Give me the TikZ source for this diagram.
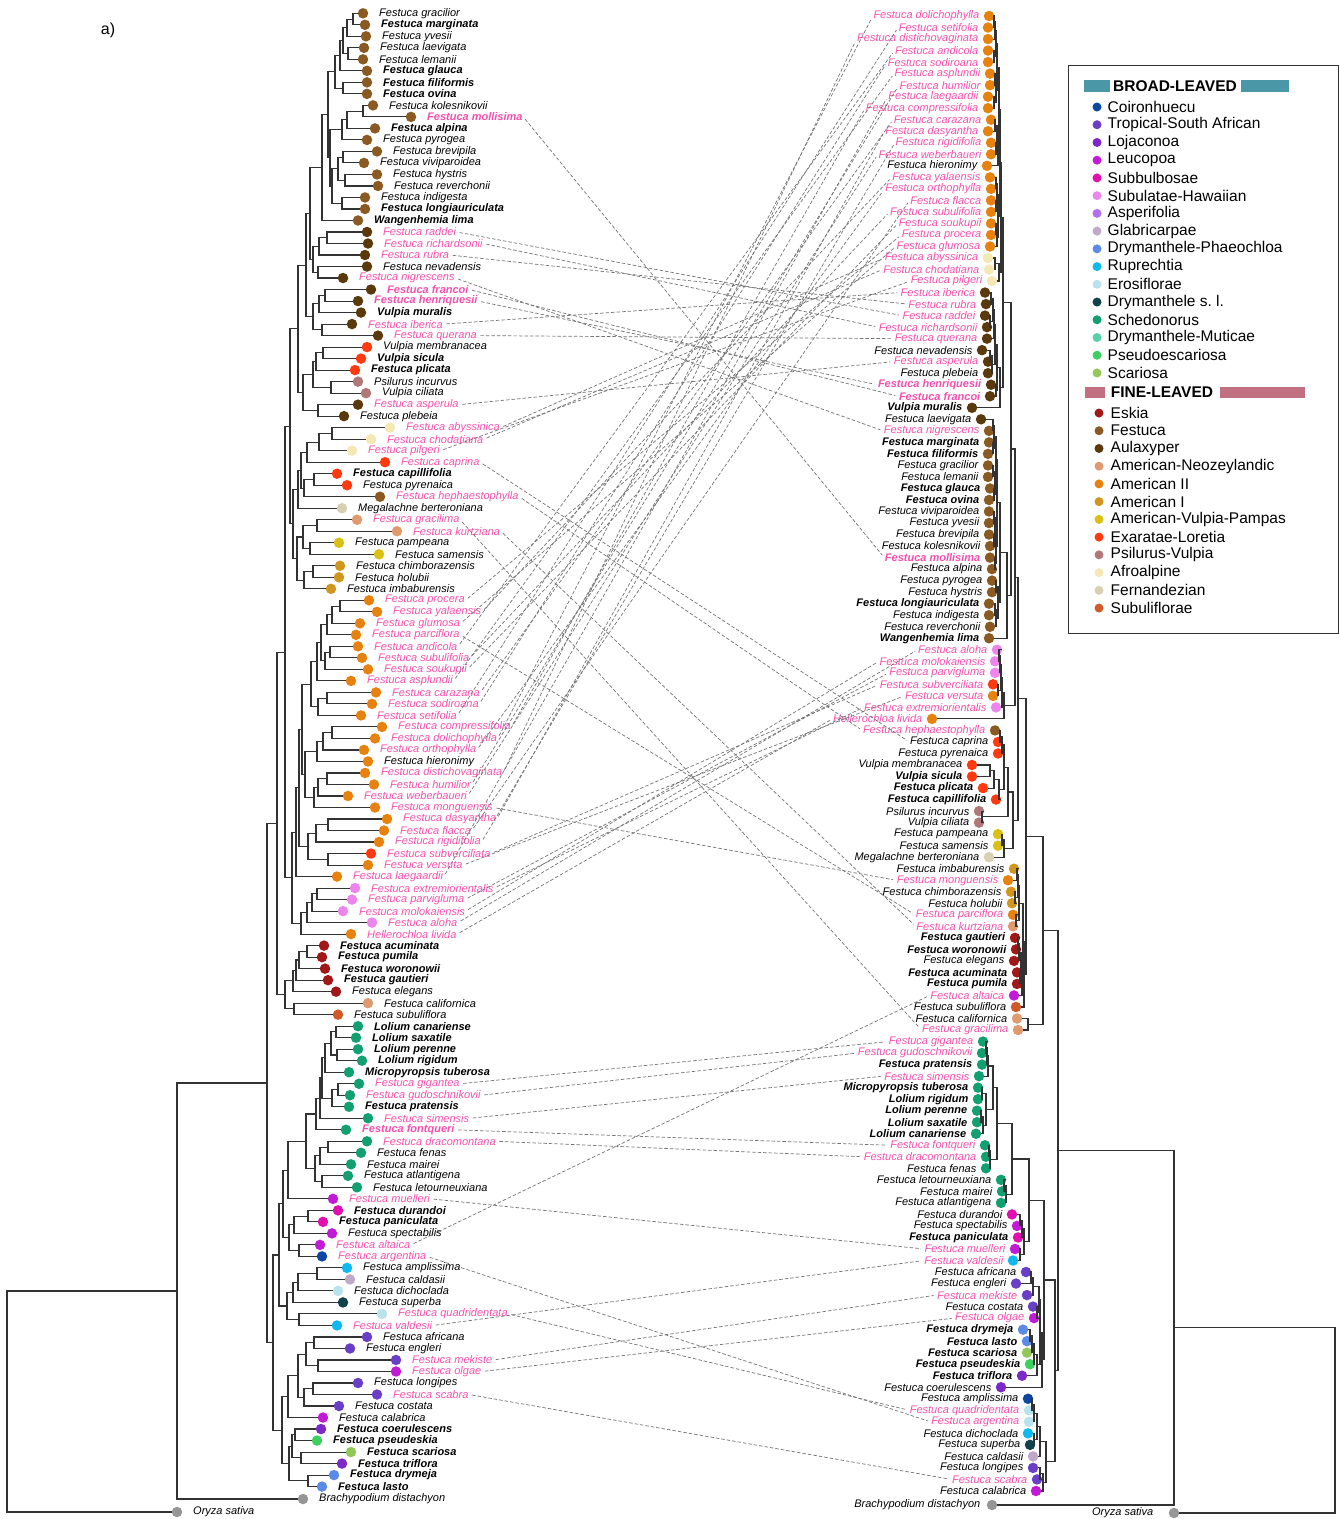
\documentclass[tikz,border=0pt]{standalone}
\usepackage{fontspec}
\setmainfont{Liberation Sans}
\usetikzlibrary{calc}
\definecolor{cCO}{RGB}{13,71,161}
\definecolor{cTS}{RGB}{106,63,200}
\definecolor{cLJ}{RGB}{125,40,200}
\definecolor{cLE}{RGB}{194,27,214}
\definecolor{cSB}{RGB}{224,16,176}
\definecolor{cSH}{RGB}{236,134,236}
\definecolor{cAS}{RGB}{176,112,240}
\definecolor{cGL}{RGB}{192,168,200}
\definecolor{cDP}{RGB}{91,139,230}
\definecolor{cRU}{RGB}{16,184,240}
\definecolor{cER}{RGB}{184,226,238}
\definecolor{cDS}{RGB}{16,66,78}
\definecolor{cSC}{RGB}{18,160,112}
\definecolor{cDM}{RGB}{85,208,168}
\definecolor{cPS}{RGB}{60,208,96}
\definecolor{cSA}{RGB}{146,200,90}
\definecolor{cES}{RGB}{160,24,24}
\definecolor{cFE}{RGB}{139,90,34}
\definecolor{cAU}{RGB}{90,58,12}
\definecolor{cAN}{RGB}{224,154,112}
\definecolor{cAII}{RGB}{232,130,15}
\definecolor{cAI}{RGB}{208,150,30}
\definecolor{cVP}{RGB}{216,192,20}
\definecolor{cEL}{RGB}{255,58,16}
\definecolor{cPV}{RGB}{176,120,120}
\definecolor{cAF}{RGB}{244,232,180}
\definecolor{cFZ}{RGB}{216,208,176}
\definecolor{cSU}{RGB}{208,90,42}
\definecolor{cOG}{RGB}{150,150,150}
\definecolor{pinkt}{RGB}{245,80,175}
\definecolor{barB}{RGB}{74,151,168}
\definecolor{barF}{RGB}{192,112,128}
\tikzset{
 tdot/.style={circle, inner sep=0pt, minimum size=10.5pt},
 legdot/.style={circle, inner sep=0pt, minimum size=9pt},
 treeln/.style={draw=black!80, line width=1.1pt},
 labn/.style={font=\fontsize{11}{12}\selectfont\itshape, inner sep=0.5pt},
 labb/.style={font=\fontsize{11}{12}\selectfont\bfseries\itshape, inner sep=0.5pt},
 labp/.style={labn, text=pinkt},
 labq/.style={labb, text=pinkt},
 tangle/.style={draw=black!55, dash pattern=on 3.5pt off 2pt, line width=0.7pt, shorten <=3pt, shorten >=3pt},
 legt/.style={font=\fontsize{15.5}{17}\selectfont, inner sep=0.5pt, anchor=west},
 legh/.style={font=\fontsize{15.5}{17}\selectfont\bfseries, inner sep=0.5pt},
}
\newcommand\LL[6]{\node[tdot,fill=c#3] (L#1) at (#2,{13.3+(#1-1)*11.51}) {};
  \node[#4,anchor=west] (lt-#6) at ([xshift=15.5pt]L#1.center) {#5};}
\newcommand\RL[6]{\node[tdot,fill=c#3] (R#1) at (#2,{16+(#1-1)*11.523}) {};
  \node[#4,anchor=east] (rt-#6) at ([xshift=-9pt]R#1.center) {#5};}
\newcommand\clade[4]{%
  \path (#3.center) -- (#4.center) coordinate[pos=.5] (#1m);
  \coordinate (#1x) at (#2,0);
  \coordinate (#1) at (#1x |- #1m);
  \draw[treeln] (#3) -| (#1.center) |- (#4);}
\begin{document}
\begin{tikzpicture}[x=1pt,y=-1pt]
\useasboundingbox (0,0) rectangle (1340,1519);
\node[font=\fontsize{16}{18}\selectfont, inner sep=0pt] (panel) at (108,30) {a)};
% ---------------- left tree leaves
\LL{1}{363}{FE}{labn}{Festuca gracilior}{gracilior}
\LL{2}{365}{FE}{labb}{Festuca marginata}{marginata}
\LL{3}{366}{FE}{labn}{Festuca yvesii}{yvesii}
\LL{4}{364}{FE}{labn}{Festuca laevigata}{laevigata}
\LL{5}{363}{FE}{labn}{Festuca lemanii}{lemanii}
\LL{6}{367}{FE}{labb}{Festuca glauca}{glauca}
\LL{7}{367}{FE}{labb}{Festuca filiformis}{filiformis}
\LL{8}{367}{FE}{labb}{Festuca ovina}{ovina}
\LL{9}{373}{FE}{labn}{Festuca kolesnikovii}{kolesnikovii}
\LL{10}{411}{FE}{labq}{Festuca mollisima}{mollisima}
\LL{11}{375}{FE}{labb}{Festuca alpina}{alpina}
\LL{12}{367}{FE}{labn}{Festuca pyrogea}{pyrogea}
\LL{13}{377}{FE}{labn}{Festuca brevipila}{brevipila}
\LL{14}{364}{FE}{labn}{Festuca viviparoidea}{viviparoidea}
\LL{15}{377}{FE}{labn}{Festuca hystris}{hystris}
\LL{16}{378}{FE}{labn}{Festuca reverchonii}{reverchonii}
\LL{17}{365}{FE}{labn}{Festuca indigesta}{indigesta}
\LL{18}{365}{FE}{labb}{Festuca longiauriculata}{longiauriculata}
\LL{19}{358}{FE}{labb}{Wangenhemia lima}{lima}
\LL{20}{367}{AU}{labp}{Festuca raddei}{raddei}
\LL{21}{368}{AU}{labp}{Festuca richardsonii}{richardsonii}
\LL{22}{365}{AU}{labp}{Festuca rubra}{rubra}
\LL{23}{367}{AU}{labn}{Festuca nevadensis}{nevadensis}
\LL{24}{343}{AU}{labp}{Festuca nigrescens}{nigrescens}
\LL{25}{371}{AU}{labq}{Festuca francoi}{francoi}
\LL{26}{358}{AU}{labq}{Festuca henriquesii}{henriquesii}
\LL{27}{361}{AU}{labb}{Vulpia muralis}{muralis}
\LL{28}{352}{AU}{labp}{Festuca iberica}{iberica}
\LL{29}{378}{AU}{labp}{Festuca querana}{querana}
\LL{30}{367}{EL}{labn}{Vulpia membranacea}{membranacea}
\LL{31}{361}{EL}{labb}{Vulpia sicula}{sicula}
\LL{32}{355}{EL}{labb}{Festuca plicata}{plicata}
\LL{33}{358}{PV}{labn}{Psilurus incurvus}{incurvus}
\LL{34}{366}{PV}{labn}{Vulpia ciliata}{ciliata}
\LL{35}{358}{AU}{labp}{Festuca asperula}{asperula}
\LL{36}{344}{AU}{labn}{Festuca plebeia}{plebeia}
\LL{37}{390}{AF}{labp}{Festuca abyssinica}{abyssinica}
\LL{38}{371}{AF}{labp}{Festuca chodatiana}{chodatiana}
\LL{39}{352}{AF}{labp}{Festuca pilgeri}{pilgeri}
\LL{40}{385}{EL}{labp}{Festuca caprina}{caprina}
\LL{41}{337}{EL}{labb}{Festuca capillifolia}{capillifolia}
\LL{42}{347}{EL}{labn}{Festuca pyrenaica}{pyrenaica}
\LL{43}{380}{FE}{labp}{Festuca hephaestophylla}{hephaestophylla}
\LL{44}{342}{FZ}{labn}{Megalachne berteroniana}{berteroniana}
\LL{45}{357}{AN}{labp}{Festuca gracilima}{gracilima}
\LL{46}{397}{AN}{labp}{Festuca kurtziana}{kurtziana}
\LL{47}{339}{VP}{labn}{Festuca pampeana}{pampeana}
\LL{48}{379}{VP}{labn}{Festuca samensis}{samensis}
\LL{49}{340}{AI}{labn}{Festuca chimborazensis}{chimborazensis}
\LL{50}{339}{AI}{labn}{Festuca holubii}{holubii}
\LL{51}{331}{AI}{labn}{Festuca imbaburensis}{imbaburensis}
\LL{52}{369}{AII}{labp}{Festuca procera}{procera}
\LL{53}{377}{AII}{labp}{Festuca yalaensis}{yalaensis}
\LL{54}{360}{AII}{labp}{Festuca glumosa}{glumosa}
\LL{55}{356}{AII}{labp}{Festuca parciflora}{parciflora}
\LL{56}{358}{AII}{labp}{Festuca andicola}{andicola}
\LL{57}{362}{AII}{labp}{Festuca subulifolia}{subulifolia}
\LL{58}{368}{AII}{labp}{Festuca soukupii}{soukupii}
\LL{59}{351}{AII}{labp}{Festuca asplundii}{asplundii}
\LL{60}{376}{AII}{labp}{Festuca carazana}{carazana}
\LL{61}{372}{AII}{labp}{Festuca sodiroana}{sodiroana}
\LL{62}{361}{AII}{labp}{Festuca setifolia}{setifolia}
\LL{63}{382}{AII}{labp}{Festuca compressifolia}{compressifolia}
\LL{64}{375}{AII}{labp}{Festuca dolichophylla}{dolichophylla}
\LL{65}{364}{AII}{labp}{Festuca orthophylla}{orthophylla}
\LL{66}{368}{AII}{labn}{Festuca hieronimy}{hieronimy}
\LL{67}{365}{AII}{labp}{Festuca distichovaginata}{distichovaginata}
\LL{68}{374}{AII}{labp}{Festuca humilior}{humilior}
\LL{69}{348}{AII}{labp}{Festuca weberbaueri}{weberbaueri}
\LL{70}{375}{AII}{labp}{Festuca monguensis}{monguensis}
\LL{71}{387}{AII}{labp}{Festuca dasyantha}{dasyantha}
\LL{72}{384}{AII}{labp}{Festuca flacca}{flacca}
\LL{73}{379}{AII}{labp}{Festuca rigidifolia}{rigidifolia}
\LL{74}{371}{EL}{labp}{Festuca subverciliata}{subverciliata}
\LL{75}{368}{AII}{labp}{Festuca versuta}{versuta}
\LL{76}{337}{AII}{labp}{Festuca laegaardii}{laegaardii}
\LL{77}{355}{SH}{labp}{Festuca extremiorientalis}{extremiorientalis}
\LL{78}{352}{SH}{labp}{Festuca parvigluma}{parvigluma}
\LL{79}{343}{SH}{labp}{Festuca molokaiensis}{molokaiensis}
\LL{80}{372}{SH}{labp}{Festuca aloha}{aloha}
\LL{81}{351}{AII}{labp}{Hellerochloa livida}{livida}
\LL{82}{324}{ES}{labb}{Festuca acuminata}{acuminata}
\LL{83}{322}{ES}{labb}{Festuca pumila}{pumila}
\LL{84}{325}{ES}{labb}{Festuca woronowii}{woronowii}
\LL{85}{328}{ES}{labb}{Festuca gautieri}{gautieri}
\LL{86}{336}{ES}{labn}{Festuca elegans}{elegans}
\LL{87}{368}{AN}{labn}{Festuca californica}{californica}
\LL{88}{338}{SU}{labn}{Festuca subuliflora}{subuliflora}
\LL{89}{358}{SC}{labb}{Lolium canariense}{canariense}
\LL{90}{356}{SC}{labb}{Lolium saxatile}{saxatile}
\LL{91}{358}{SC}{labb}{Lolium perenne}{perenne}
\LL{92}{362}{SC}{labb}{Lolium rigidum}{rigidum}
\LL{93}{349}{SC}{labb}{Micropyropsis tuberosa}{tuberosa}
\LL{94}{359}{SC}{labp}{Festuca gigantea}{gigantea}
\LL{95}{350}{SC}{labp}{Festuca gudoschnikovii}{gudoschnikovii}
\LL{96}{349}{SC}{labb}{Festuca pratensis}{pratensis}
\LL{97}{368}{SC}{labp}{Festuca simensis}{simensis}
\LL{98}{346}{SC}{labq}{Festuca fontqueri}{fontqueri}
\LL{99}{367}{SC}{labp}{Festuca dracomontana}{dracomontana}
\LL{100}{361}{SC}{labn}{Festuca fenas}{fenas}
\LL{101}{351}{SC}{labn}{Festuca mairei}{mairei}
\LL{102}{348}{SC}{labn}{Festuca atlantigena}{atlantigena}
\LL{103}{357}{SC}{labn}{Festuca letourneuxiana}{letourneuxiana}
\LL{104}{333}{LE}{labp}{Festuca muelleri}{muelleri}
\LL{105}{338}{SB}{labb}{Festuca durandoi}{durandoi}
\LL{106}{323}{SB}{labb}{Festuca paniculata}{paniculata}
\LL{107}{332}{LE}{labn}{Festuca spectabilis}{spectabilis}
\LL{108}{320}{LE}{labp}{Festuca altaica}{altaica}
\LL{109}{322}{CO}{labp}{Festuca argentina}{argentina}
\LL{110}{347}{RU}{labn}{Festuca amplissima}{amplissima}
\LL{111}{350}{GL}{labn}{Festuca caldasii}{caldasii}
\LL{112}{338}{ER}{labn}{Festuca dichoclada}{dichoclada}
\LL{113}{343}{DS}{labn}{Festuca superba}{superba}
\LL{114}{382}{ER}{labp}{Festuca quadridentata}{quadridentata}
\LL{115}{337}{RU}{labp}{Festuca valdesii}{valdesii}
\LL{116}{367}{TS}{labn}{Festuca africana}{africana}
\LL{117}{350}{TS}{labn}{Festuca engleri}{engleri}
\LL{118}{396}{TS}{labp}{Festuca mekiste}{mekiste}
\LL{119}{396}{LE}{labp}{Festuca olgae}{olgae}
\LL{120}{358}{TS}{labn}{Festuca longipes}{longipes}
\LL{121}{377}{TS}{labp}{Festuca scabra}{scabra}
\LL{122}{339}{TS}{labn}{Festuca costata}{costata}
\LL{123}{323}{LE}{labn}{Festuca calabrica}{calabrica}
\LL{124}{321}{LJ}{labb}{Festuca coerulescens}{coerulescens}
\LL{125}{317}{PS}{labb}{Festuca pseudeskia}{pseudeskia}
\LL{126}{351}{SA}{labb}{Festuca scariosa}{scariosa}
\LL{127}{342}{LJ}{labb}{Festuca triflora}{triflora}
\LL{128}{334}{DP}{labb}{Festuca drymeja}{drymeja}
\LL{129}{322}{DP}{labb}{Festuca lasto}{lasto}
\node[tdot,fill=cOG] (LBr) at (303,1499) {};
\node[labn,anchor=west] (lt-brachy) at ([xshift=15.5pt]LBr.center) {Brachypodium distachyon};
\node[tdot,fill=cOG] (LOr) at (177,1512) {};
\node[labn,anchor=west] (lt-oryza) at ([xshift=15.5pt]LOr.center) {Oryza sativa};
% ---------------- left tree clades
\clade{lA1}{353}{L1}{L2}
\clade{lA2}{347}{lA1}{L3}
\clade{lA3}{348}{L4}{L5}
\clade{lA4}{343}{lA2}{lA3}
\clade{lA5}{340}{lA4}{L6}
\clade{lA6}{343}{L7}{L8}
\clade{lA7}{335}{lA5}{lA6}
\clade{lB1}{363}{L9}{L10}
\clade{lB2}{347}{lB1}{L11}
\clade{lB3}{342}{lB2}{L12}
\clade{lB4}{343}{L13}{L14}
\clade{lB5}{345}{L15}{L16}
\clade{lB6}{338}{lB4}{lB5}
\clade{lB7}{342}{L17}{L18}
\clade{lB8}{332}{lB6}{lB7}
\clade{lB9}{330}{lB3}{lB8}
\clade{lC1}{328}{lA7}{lB9}
\clade{lC2}{322}{lC1}{L19}
\clade{lAu1}{327}{L20}{L21}
\clade{lAu2}{319}{lAu1}{L22}
\clade{lAu3}{318}{L23}{L24}
\clade{lAu4}{313}{lAu2}{lAu3}
\clade{lD1}{310}{lC2}{lAu4}
\clade{lAu5}{325}{L25}{L26}
\clade{lAu6}{319}{lAu5}{L27}
\clade{lAu7}{322}{L28}{L29}
\clade{lAu8}{313}{lAu6}{lAu7}
\clade{lD2}{306}{lD1}{lAu8}
\clade{lE1}{323}{L30}{L31}
\clade{lE2}{316}{lE1}{L32}
\clade{lE3}{331}{L33}{L34}
\clade{lE4}{313}{lE2}{lE3}
\clade{lE5}{318}{L35}{L36}
\clade{lE6}{303}{lE4}{lE5}
\clade{lF1}{298}{lD2}{lE6}
\clade{lG1}{332}{L37}{L38}
\clade{lG2}{319}{lG1}{L39}
\clade{lG3}{307}{lG2}{L40}
\clade{lG4}{314}{L41}{L42}
\clade{lG5}{304}{lG4}{L43}
\clade{lG6}{301}{lG3}{lG5}
\clade{lG7}{298}{lG6}{L44}
\clade{lH1}{317}{L45}{L46}
\clade{lH2}{310}{L47}{L48}
\clade{lH3}{303}{lH1}{lH2}
\clade{lH4}{313}{L49}{L50}
\clade{lH5}{304}{lH4}{L51}
\clade{lH6}{297}{lH3}{lH5}
\clade{lH7}{293}{lG7}{lH6}
\clade{lI1}{290}{lF1}{lH7}
\clade{lJ1}{340}{L52}{L53}
\clade{lJ2}{332}{lJ1}{L54}
\clade{lJ3}{327}{lJ2}{L55}
\clade{lJ4}{330}{L56}{L57}
\clade{lJ5}{325}{lJ4}{L58}
\clade{lJ6}{321}{lJ3}{lJ5}
\clade{lJ7}{317}{lJ6}{L59}
\clade{lJ8}{327}{L60}{L61}
\clade{lJ9}{318}{lJ8}{L62}
\clade{lJ10}{311}{lJ7}{lJ9}
\clade{lK1}{332}{L63}{L64}
\clade{lK2}{323}{lK1}{L65}
\clade{lK3}{317}{lK2}{L66}
\clade{lK4}{327}{L67}{L68}
\clade{lK5}{318}{lK4}{L69}
\clade{lK6}{314}{lK5}{L70}
\clade{lK7}{305}{lK3}{lK6}
\clade{lK8}{302}{lJ10}{lK7}
\clade{lM1}{328}{L71}{L72}
\clade{lM2}{316}{lM1}{L73}
\clade{lM3}{328}{L74}{L75}
\clade{lM4}{308}{lM2}{lM3}
\clade{lM5}{299}{lK8}{lM4}
\clade{lM6}{296}{lM5}{L76}
\clade{lN1}{317}{L77}{L78}
\clade{lN2}{312}{lN1}{L79}
\clade{lN3}{307}{lN2}{L80}
\clade{lN4}{301}{lN3}{L81}
\clade{lN}{292}{lM6}{lN4}
\clade{lI2}{285}{lI1}{lN}
\clade{lO1}{307}{L82}{L83}
\clade{lO2}{299}{lO1}{L84}
\clade{lO3}{296}{lO2}{L85}
\clade{lO4}{293}{lO3}{L86}
\clade{lO5}{294}{L87}{L88}
\clade{lO6}{285}{lO4}{lO5}
\clade{lFL}{277}{lI2}{lO6}
\clade{lP1}{336}{L89}{L90}
\clade{lP2}{337}{L91}{L92}
\clade{lP3}{331}{lP1}{lP2}
\clade{lP4}{325}{lP3}{L93}
\clade{lP5}{338}{L94}{L95}
\clade{lP6}{332}{lP5}{L96}
\clade{lP7}{322}{lP4}{lP6}
\clade{lP8}{320}{lP7}{L97}
\clade{lP9}{316}{lP8}{L98}
\clade{lQ1}{328}{L99}{L100}
\clade{lQ2}{320}{lQ1}{L101}
\clade{lQ3}{322}{L102}{L103}
\clade{lQ4}{315}{lQ2}{lQ3}
\clade{lQ5}{306}{lP9}{lQ4}
\clade{lQ6}{288}{lQ5}{L104}
\clade{lV1}{308}{L105}{L106}
\clade{lV2}{294}{lV1}{L107}
\clade{lV3}{299}{L108}{L109}
\clade{lV4}{289}{lV2}{lV3}
\clade{lV5}{283}{lQ6}{lV4}
\clade{lS1}{317}{L110}{L111}
\clade{lS2}{298}{lS1}{L112}
\clade{lS3}{293}{lS2}{L113}
\clade{lS4}{299}{L114}{L115}
\clade{lS5}{287}{lS3}{lS4}
\clade{lV6}{279}{lV5}{lS5}
\clade{lT1}{314}{L116}{L117}
\clade{lT2}{318}{L118}{L119}
\clade{lT3}{306}{lT1}{lT2}
\clade{lT4}{313}{L120}{L121}
\clade{lT5}{304}{lT4}{L122}
\clade{lT6}{298}{lT3}{lT5}
\clade{lT7}{288}{lT6}{L123}
\clade{lU1}{295}{L124}{L125}
\clade{lU2}{301}{L126}{L127}
\clade{lU3}{292}{lU1}{lU2}
\clade{lU4}{308}{L128}{L129}
\clade{lU5}{289}{lU3}{lU4}
\clade{lU6}{282}{lT7}{lU5}
\clade{lBL}{273}{lV6}{lU6}
\clade{lIng}{267}{lFL}{lBL}
\clade{lPoo}{177}{lIng}{LBr}
\clade{lRoot}{7}{lPoo}{LOr}
% ---------------- right tree leaves
\RL{1}{989}{AII}{labp}{Festuca dolichophylla}{dolichophylla}
\RL{2}{988}{AII}{labp}{Festuca setifolia}{setifolia}
\RL{3}{988}{AII}{labp}{Festuca distichovaginata}{distichovaginata}
\RL{4}{988}{AII}{labp}{Festuca andicola}{andicola}
\RL{5}{988}{AII}{labp}{Festuca sodiroana}{sodiroana}
\RL{6}{990}{AII}{labp}{Festuca asplundii}{asplundii}
\RL{7}{990}{AII}{labp}{Festuca humilior}{humilior}
\RL{8}{988}{AII}{labp}{Festuca laegaardii}{laegaardii}
\RL{9}{988}{AII}{labp}{Festuca compressifolia}{compressifolia}
\RL{10}{991}{AII}{labp}{Festuca carazana}{carazana}
\RL{11}{988}{AII}{labp}{Festuca dasyantha}{dasyantha}
\RL{12}{991}{AII}{labp}{Festuca rigidifolia}{rigidifolia}
\RL{13}{991}{AII}{labp}{Festuca weberbaueri}{weberbaueri}
\RL{14}{987}{AII}{labn}{Festuca hieronimy}{hieronimy}
\RL{15}{990}{AII}{labp}{Festuca yalaensis}{yalaensis}
\RL{16}{991}{AII}{labp}{Festuca orthophylla}{orthophylla}
\RL{17}{991}{AII}{labp}{Festuca flacca}{flacca}
\RL{18}{991}{AII}{labp}{Festuca subulifolia}{subulifolia}
\RL{19}{991}{AII}{labp}{Festuca soukupii}{soukupii}
\RL{20}{991}{AII}{labp}{Festuca procera}{procera}
\RL{21}{990}{AII}{labp}{Festuca glumosa}{glumosa}
\RL{22}{988}{AF}{labp}{Festuca abyssinica}{abyssinica}
\RL{23}{989}{AF}{labp}{Festuca chodatiana}{chodatiana}
\RL{24}{992}{AF}{labp}{Festuca pilgeri}{pilgeri}
\RL{25}{985}{AU}{labp}{Festuca iberica}{iberica}
\RL{26}{986}{AU}{labp}{Festuca rubra}{rubra}
\RL{27}{985}{AU}{labp}{Festuca raddei}{raddei}
\RL{28}{987}{AU}{labp}{Festuca richardsonii}{richardsonii}
\RL{29}{987}{AU}{labp}{Festuca querana}{querana}
\RL{30}{982}{AU}{labn}{Festuca nevadensis}{nevadensis}
\RL{31}{988}{AU}{labp}{Festuca asperula}{asperula}
\RL{32}{988}{AU}{labn}{Festuca plebeia}{plebeia}
\RL{33}{991}{AU}{labq}{Festuca henriquesii}{henriquesii}
\RL{34}{990}{AU}{labq}{Festuca francoi}{francoi}
\RL{35}{972}{AU}{labb}{Vulpia muralis}{muralis}
\RL{36}{981}{AU}{labn}{Festuca laevigata}{laevigata}
\RL{37}{989}{FE}{labp}{Festuca nigrescens}{nigrescens}
\RL{38}{989}{FE}{labb}{Festuca marginata}{marginata}
\RL{39}{988}{FE}{labb}{Festuca filiformis}{filiformis}
\RL{40}{988}{FE}{labn}{Festuca gracilior}{gracilior}
\RL{41}{988}{FE}{labn}{Festuca lemanii}{lemanii}
\RL{42}{990}{FE}{labb}{Festuca glauca}{glauca}
\RL{43}{989}{FE}{labb}{Festuca ovina}{ovina}
\RL{44}{989}{FE}{labn}{Festuca viviparoidea}{viviparoidea}
\RL{45}{989}{FE}{labn}{Festuca yvesii}{yvesii}
\RL{46}{989}{FE}{labn}{Festuca brevipila}{brevipila}
\RL{47}{990}{FE}{labn}{Festuca kolesnikovii}{kolesnikovii}
\RL{48}{990}{FE}{labq}{Festuca mollisima}{mollisima}
\RL{49}{992}{FE}{labn}{Festuca alpina}{alpina}
\RL{50}{992}{FE}{labn}{Festuca pyrogea}{pyrogea}
\RL{51}{992}{FE}{labn}{Festuca hystris}{hystris}
\RL{52}{989}{FE}{labb}{Festuca longiauriculata}{longiauriculata}
\RL{53}{989}{FE}{labn}{Festuca indigesta}{indigesta}
\RL{54}{990}{FE}{labn}{Festuca reverchonii}{reverchonii}
\RL{55}{989}{FE}{labb}{Wangenhemia lima}{lima}
\RL{56}{997}{SH}{labp}{Festuca aloha}{aloha}
\RL{57}{995}{SH}{labp}{Festuca molokaiensis}{molokaiensis}
\RL{58}{995}{SH}{labp}{Festuca parvigluma}{parvigluma}
\RL{59}{993}{EL}{labp}{Festuca subverciliata}{subverciliata}
\RL{60}{993}{AII}{labp}{Festuca versuta}{versuta}
\RL{61}{996}{SH}{labp}{Festuca extremiorientalis}{extremiorientalis}
\RL{62}{932}{AII}{labp}{Hellerochloa livida}{livida}
\RL{63}{995}{FE}{labp}{Festuca hephaestophylla}{hephaestophylla}
\RL{64}{998}{EL}{labn}{Festuca caprina}{caprina}
\RL{65}{998}{EL}{labn}{Festuca pyrenaica}{pyrenaica}
\RL{66}{972}{EL}{labn}{Vulpia membranacea}{membranacea}
\RL{67}{972}{EL}{labb}{Vulpia sicula}{sicula}
\RL{68}{983}{EL}{labb}{Festuca plicata}{plicata}
\RL{69}{996}{EL}{labb}{Festuca capillifolia}{capillifolia}
\RL{70}{979}{PV}{labn}{Psilurus incurvus}{incurvus}
\RL{71}{979}{PV}{labn}{Vulpia ciliata}{ciliata}
\RL{72}{998}{VP}{labn}{Festuca pampeana}{pampeana}
\RL{73}{998}{VP}{labn}{Festuca samensis}{samensis}
\RL{74}{989}{FZ}{labn}{Megalachne berteroniana}{berteroniana}
\RL{75}{1014}{AI}{labn}{Festuca imbaburensis}{imbaburensis}
\RL{76}{1008}{AII}{labp}{Festuca monguensis}{monguensis}
\RL{77}{1011}{AI}{labn}{Festuca chimborazensis}{chimborazensis}
\RL{78}{1012}{AI}{labn}{Festuca holubii}{holubii}
\RL{79}{1013}{AII}{labp}{Festuca parciflora}{parciflora}
\RL{80}{1013}{AN}{labp}{Festuca kurtziana}{kurtziana}
\RL{81}{1015}{ES}{labb}{Festuca gautieri}{gautieri}
\RL{82}{1016}{ES}{labb}{Festuca woronowii}{woronowii}
\RL{83}{1014}{ES}{labn}{Festuca elegans}{elegans}
\RL{84}{1017}{ES}{labb}{Festuca acuminata}{acuminata}
\RL{85}{1017}{ES}{labb}{Festuca pumila}{pumila}
\RL{86}{1014}{LE}{labp}{Festuca altaica}{altaica}
\RL{87}{1016}{SU}{labn}{Festuca subuliflora}{subuliflora}
\RL{88}{1017}{AN}{labn}{Festuca californica}{californica}
\RL{89}{1018}{AN}{labp}{Festuca gracilima}{gracilima}
\RL{90}{983}{SC}{labp}{Festuca gigantea}{gigantea}
\RL{91}{982}{SC}{labp}{Festuca gudoschnikovii}{gudoschnikovii}
\RL{92}{982}{SC}{labb}{Festuca pratensis}{pratensis}
\RL{93}{979}{SC}{labp}{Festuca simensis}{simensis}
\RL{94}{978}{SC}{labb}{Micropyropsis tuberosa}{tuberosa}
\RL{95}{978}{SC}{labb}{Lolium rigidum}{rigidum}
\RL{96}{977}{SC}{labb}{Lolium perenne}{perenne}
\RL{97}{977}{SC}{labb}{Lolium saxatile}{saxatile}
\RL{98}{976}{SC}{labb}{Lolium canariense}{canariense}
\RL{99}{985}{SC}{labp}{Festuca fontqueri}{fontqueri}
\RL{100}{986}{SC}{labp}{Festuca dracomontana}{dracomontana}
\RL{101}{986}{SC}{labn}{Festuca fenas}{fenas}
\RL{102}{1001}{SC}{labn}{Festuca letourneuxiana}{letourneuxiana}
\RL{103}{1002}{SC}{labn}{Festuca mairei}{mairei}
\RL{104}{1001}{SC}{labn}{Festuca atlantigena}{atlantigena}
\RL{105}{1012}{SB}{labn}{Festuca durandoi}{durandoi}
\RL{106}{1017}{LE}{labn}{Festuca spectabilis}{spectabilis}
\RL{107}{1018}{SB}{labb}{Festuca paniculata}{paniculata}
\RL{108}{1015}{LE}{labp}{Festuca muelleri}{muelleri}
\RL{109}{1013}{RU}{labp}{Festuca valdesii}{valdesii}
\RL{110}{1026}{TS}{labn}{Festuca africana}{africana}
\RL{111}{1016}{TS}{labn}{Festuca engleri}{engleri}
\RL{112}{1027}{TS}{labp}{Festuca mekiste}{mekiste}
\RL{113}{1033}{TS}{labn}{Festuca costata}{costata}
\RL{114}{1034}{LE}{labp}{Festuca olgae}{olgae}
\RL{115}{1023}{DP}{labb}{Festuca drymeja}{drymeja}
\RL{116}{1027}{DP}{labb}{Festuca lasto}{lasto}
\RL{117}{1027}{SA}{labb}{Festuca scariosa}{scariosa}
\RL{118}{1030}{PS}{labb}{Festuca pseudeskia}{pseudeskia}
\RL{119}{1022}{LJ}{labb}{Festuca triflora}{triflora}
\RL{120}{1001}{LJ}{labn}{Festuca coerulescens}{coerulescens}
\RL{121}{1028}{CO}{labn}{Festuca amplissima}{amplissima}
\RL{122}{1029}{ER}{labp}{Festuca quadridentata}{quadridentata}
\RL{123}{1029}{ER}{labp}{Festuca argentina}{argentina}
\RL{124}{1028}{RU}{labn}{Festuca dichoclada}{dichoclada}
\RL{125}{1030}{DS}{labn}{Festuca superba}{superba}
\RL{126}{1033}{GL}{labn}{Festuca caldasii}{caldasii}
\RL{127}{1033}{TS}{labn}{Festuca longipes}{longipes}
\RL{128}{1037}{TS}{labp}{Festuca scabra}{scabra}
\RL{129}{1036}{LE}{labn}{Festuca calabrica}{calabrica}
\node[tdot,fill=cOG] (RBr) at (992,1505) {};
\node[labn,anchor=east] (rt-brachy) at ([xshift=-11pt]RBr.center) {Brachypodium distachyon};
\node[tdot,fill=cOG] (ROr) at (1174,1513) {};
\node[labn,anchor=east] (rt-oryza) at ([xshift=-20pt]ROr.center) {Oryza sativa};
% ---------------- right tree clades
\clade{ra1}{994}{R1}{R2}
\clade{ra2}{995}{ra1}{R3}
\clade{ra3}{994}{R4}{R5}
\clade{ra4}{996}{ra2}{ra3}
\clade{ra5}{995}{R6}{R7}
\clade{ra6}{994}{R8}{R9}
\clade{ra7}{996}{ra5}{ra6}
\clade{ra8}{997}{ra4}{ra7}
\clade{ra9}{995}{R10}{R11}
\clade{ra10}{996}{R12}{R13}
\clade{ra11}{997}{ra9}{ra10}
\clade{ra12}{998}{ra11}{R14}
\clade{ra13}{999}{ra8}{ra12}
\clade{ra14}{996}{R15}{R16}
\clade{ra15}{996}{R17}{R18}
\clade{ra16}{997}{ra14}{ra15}
\clade{ra17}{996}{R19}{R20}
\clade{ra18}{997}{ra17}{R21}
\clade{ra19}{998}{ra16}{ra18}
\clade{ra20}{1000}{ra13}{ra19}
\clade{rb1}{995}{R22}{R23}
\clade{rb2}{999}{rb1}{R24}
\clade{ra21}{1001}{ra20}{rb2}
\clade{rc1}{991}{R25}{R26}
\clade{rc2}{990}{R27}{R28}
\clade{rc3}{993}{rc1}{rc2}
\clade{rc4}{994}{rc3}{R29}
\clade{rc5}{990}{R30}{R31}
\clade{rc6}{992}{rc5}{R32}
\clade{rc7}{995}{rc4}{rc6}
\clade{rc8}{996}{R33}{R34}
\clade{rc9}{997}{rc7}{rc8}
\clade{rc10}{1000}{rc9}{R35}
\clade{rd1}{993}{R36}{R37}
\clade{rd2}{993}{R38}{R39}
\clade{rd3}{994}{rd1}{rd2}
\clade{rd4}{993}{R40}{R41}
\clade{rd5}{994}{R42}{R43}
\clade{rd6}{995}{rd4}{rd5}
\clade{rd7}{996}{rd3}{rd6}
\clade{rd8}{994}{R44}{R45}
\clade{rd9}{994}{R46}{R47}
\clade{rd10}{995}{rd8}{rd9}
\clade{rd11}{995}{R48}{R49}
\clade{rd12}{996}{rd10}{rd11}
\clade{rd13}{997}{rd7}{rd12}
\clade{rd14}{996}{R50}{R51}
\clade{rd15}{995}{R52}{R53}
\clade{rd16}{996}{rd15}{R54}
\clade{rd17}{998}{rd14}{rd16}
\clade{rd18}{1000}{rd13}{rd17}
\clade{rd19}{1007}{rd18}{R55}
\clade{re1}{1003}{ra21}{rc10}
\clade{re2}{1011}{re1}{rd19}
\clade{rg1}{999}{R56}{R57}
\clade{rg2}{1000}{rg1}{R58}
\clade{rg3}{998}{R59}{R60}
\clade{rg4}{1001}{rg2}{rg3}
\clade{rg5}{1002}{rg4}{R61}
\clade{rg6}{1004}{rg5}{R62}
\clade{rf}{1015}{re2}{rg6}
\clade{rh1}{1000}{R63}{R64}
\clade{rh2}{1002}{rh1}{R65}
\clade{rh3}{990}{R66}{R67}
\clade{rh4}{994}{rh3}{R68}
\clade{rh5}{999}{rh4}{R69}
\clade{rh6}{1004}{rh2}{rh5}
\clade{rh7}{982}{R70}{R71}
\clade{rh8}{1008}{rh6}{rh7}
\clade{rh9}{1002}{R72}{R73}
\clade{rh10}{1004}{rh9}{R74}
\clade{rh11}{1013}{rh8}{rh10}
\clade{rh12}{1018}{rf}{rh11}
\clade{ri1}{1017}{R75}{R76}
\clade{ri2}{1015}{R77}{R78}
\clade{ri3}{1018}{ri1}{ri2}
\clade{ri4}{1016}{R79}{R80}
\clade{ri5}{1019}{ri3}{ri4}
\clade{ri6}{1018}{R81}{R82}
\clade{ri7}{1019}{ri6}{R83}
\clade{ri8}{1020}{R84}{R85}
\clade{ri9}{1021}{ri7}{ri8}
\clade{ri10}{1022}{ri9}{R86}
\clade{ri11}{1023}{ri5}{ri10}
\clade{ri12}{1024}{ri11}{R87}
\clade{ri13}{1028}{R88}{R89}
\clade{rj1}{1026}{rh12}{ri12}
\clade{rFL}{1043}{rj1}{ri13}
\clade{rk1}{986}{R90}{R91}
\clade{rk2}{987}{rk1}{R92}
\clade{rk3}{988}{rk2}{R93}
\clade{rk4}{982}{R94}{R95}
\clade{rk5}{981}{R96}{R97}
\clade{rk6}{983}{rk5}{R98}
\clade{rk7}{986}{rk4}{rk6}
\clade{rk8}{993}{rk3}{rk7}
\clade{rk9}{989}{R99}{R100}
\clade{rk10}{990}{rk9}{R101}
\clade{rk11}{997}{rk8}{rk10}
\clade{rk12}{1004}{R102}{R103}
\clade{rk13}{1006}{rk12}{R104}
\clade{rk14}{1012}{rk11}{rk13}
\clade{rl1}{1020}{R105}{R106}
\clade{rl2}{1022}{rl1}{R107}
\clade{rl3}{1020}{R108}{R109}
\clade{rl4}{1024}{rl2}{rl3}
\clade{rm}{1029}{rk14}{rl4}
\clade{rn1}{1031}{R110}{R111}
\clade{rn2}{1033}{rn1}{R112}
\clade{rn3}{1037}{R113}{R114}
\clade{rn4}{1039}{rn2}{rn3}
\clade{rn5}{1030}{R115}{R116}
\clade{rn6}{1032}{rn5}{R117}
\clade{rn7}{1034}{rn6}{R118}
\clade{rn8}{1037}{rn7}{R119}
\clade{rn9}{1040}{rn4}{rn8}
\clade{rn10}{1042}{rn9}{R120}
\clade{ro1}{1032}{R121}{R122}
\clade{ro2}{1034}{ro1}{R123}
\clade{ro3}{1034}{R124}{R125}
\clade{ro4}{1037}{ro2}{ro3}
\clade{ro5}{1040}{ro4}{R126}
\clade{ro6}{1040}{R127}{R128}
\clade{ro7}{1043}{ro6}{R129}
\clade{ro8}{1046}{ro5}{ro7}
\clade{rp1}{1044}{rm}{rn10}
\clade{rBL}{1055}{rp1}{ro8}
\clade{rIng}{1058}{rFL}{rBL}
\clade{rPoo}{1174}{rIng}{RBr}
\clade{rRoot}{1335}{rPoo}{ROr}
% ---------------- tanglegram links
\foreach \n in {mollisima,raddei,richardsonii,rubra,nigrescens,francoi,henriquesii,iberica,querana,asperula,abyssinica,chodatiana,pilgeri,caprina,hephaestophylla,gracilima,kurtziana,procera,yalaensis,glumosa,parciflora,andicola,subulifolia,soukupii,asplundii,carazana,sodiroana,setifolia,compressifolia,dolichophylla,orthophylla,distichovaginata,humilior,weberbaueri,monguensis,dasyantha,flacca,rigidifolia,subverciliata,versuta,laegaardii,extremiorientalis,parvigluma,molokaiensis,aloha,livida,gigantea,gudoschnikovii,simensis,fontqueri,dracomontana,muelleri,altaica,argentina,quadridentata,valdesii,mekiste,olgae,scabra}
  {\draw[tangle] (lt-\n.east) -- (rt-\n.west);}
% ---------------- legend
\node[draw=black!80, line width=1pt, minimum width=270pt, minimum height=568pt, inner sep=0pt, anchor=north west] (legbox) at (1068,65) {};
\node[fill=barB, minimum width=26pt, minimum height=12pt, inner sep=0pt] (bbarl) at (1097,86) {};
\node[fill=barB, minimum width=48pt, minimum height=12pt, inner sep=0pt] (bbarr) at (1265,86) {};
\node[legh] (bhead) at (1175,86) {BROAD-LEAVED};
\foreach \c/\t [count=\k from 0] in {cCO/Coironhuecu,cTS/Tropical-South African,cLJ/Lojaconoa,cLE/Leucopoa,cSB/Subbulbosae,cSH/Subulatae-Hawaiian,cAS/Asperifolia,cGL/Glabricarpae,cDP/Drymanthele-Phaeochloa,cRU/Ruprechtia,cER/Erosiflorae,cDS/Drymanthele s.\ l.,cSC/Schedonorus,cDM/Drymanthele-Muticae,cPS/Pseudoescariosa,cSA/Scariosa}
  {\node[legdot,fill=\c] (lgb\k) at (1097,{107+17.73*\k}) {};
   \node[legt] (lgbt\k) at (1107,{107+17.73*\k}) {\t};}
\node[fill=barF, minimum width=20pt, minimum height=11pt, inner sep=0pt] (fbarl) at (1095,392) {};
\node[fill=barF, minimum width=85pt, minimum height=11pt, inner sep=0pt] (fbarr) at (1262.5,392) {};
\node[legh] (fhead) at (1162,392) {FINE-LEAVED};
\foreach \c/\t [count=\k from 0] in {cES/Eskia,cFE/Festuca,cAU/Aulaxyper,cAN/American-Neozeylandic,cAII/American II,cAI/American I,cVP/American-Vulpia-Pampas,cEL/Exaratae-Loretia,cPV/Psilurus-Vulpia,cAF/Afroalpine,cFZ/Fernandezian,cSU/Subuliflorae}
  {\node[legdot,fill=\c] (lgf\k) at (1099,{413+17.73*\k}) {};
   \node[legt] (lgft\k) at (1110,{413+17.73*\k}) {\t};}
\end{tikzpicture}
\end{document}
